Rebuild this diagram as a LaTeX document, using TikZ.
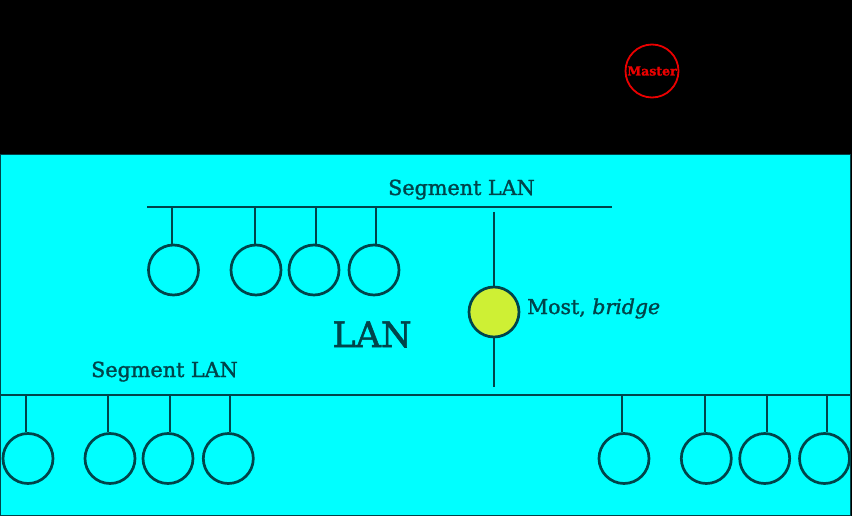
\documentclass[tikz,border=0pt]{standalone}
\usepackage{fontspec}
\setmainfont{DejaVu Serif}[FakeBold=1.5]
\definecolor{ink}{RGB}{0,68,74}
\definecolor{lancyan}{RGB}{0,255,255}
\definecolor{bridgefill}{RGB}{206,240,52}
\definecolor{mred}{RGB}{235,0,0}
\begin{document}
\begin{tikzpicture}[x=1pt,y=-1pt,
  station/.style={circle,draw=ink,line width=2.7pt,minimum size=50pt,inner sep=0pt},
  wire/.style={draw=ink,line width=2.7pt},
  lbl/.style={text=ink,inner sep=0pt,font=\fontsize{20.7}{21}\selectfont}]
\useasboundingbox (0,0) rectangle (852,516);
\fill[black] (0,0) rectangle (852,516);
\draw[fill=lancyan,draw=ink,line width=1pt] (0.5,155) rectangle (850,515);
% master
\node[circle,draw=mred,line width=1.8pt,minimum size=53pt,inner sep=0pt,text=mred,
  font=\fontsize{12.5}{12.5}\selectfont\bfseries] (master) at (652,71) {Master};
% upper segment
\coordinate (ua) at (147,207);
\coordinate (ub) at (612,207);
\draw[wire] (ua) -- (ub);
\node[lbl,anchor=base west] (useg) at (388,195) {Segment LAN};
\foreach \n/\tx/\cx in {u1/172/173.5,u2/255/256,u3/316/314,u4/376/374}{
  \node[station] (\n) at (\cx,270) {};
  \coordinate (t\n) at (\tx,207);
  \draw[wire] (t\n) -- (t\n |- \n.north);
}
% bridge
\node[station,fill=bridgefill] (bridge) at (494,312) {};
\coordinate (btop) at (494,212);
\coordinate (bbot) at (494,387);
\draw[wire] (btop) -- (bridge.north);
\draw[wire] (bridge.south) -- (bbot);
\node[lbl,anchor=base west,font=\fontsize{20.5}{21}\selectfont] (most) at (527,314) {Most, \textit{bridge}};
\node[text=ink,inner sep=0pt,anchor=base,font=\fontsize{35}{35}\selectfont] (lan) at (372,347) {LAN};
% lower segment
\coordinate (la) at (0,395);
\coordinate (lb) at (850,395);
\draw[wire] (la) -- (lb);
\node[lbl,anchor=base west] (lseg) at (91,377) {Segment LAN};
\foreach \n/\tx/\cx in {l1/26/28,l2/108/110,l3/170/168,l4/230/228.3,r1/622/624,r2/705/706.3,r3/767/764.7,r4/827/824.5}{
  \node[station] (\n) at (\cx,458.5) {};
  \coordinate (t\n) at (\tx,395);
  \draw[wire] (t\n) -- (t\n |- \n.north);
}
\end{tikzpicture}
\end{document}
